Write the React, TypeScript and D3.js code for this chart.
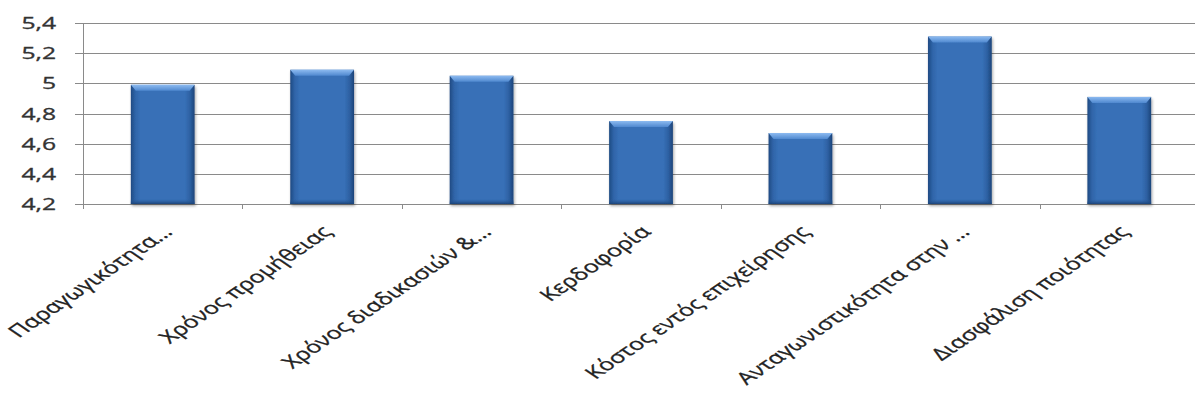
import React from "react";
import * as d3 from "d3";

const categories: string[] = [
  "Παραγωγικότητα...",
  "Χρόνος προμήθειας",
  "Χρόνος διαδικασιών &...",
  "Κερδοφορία",
  "Κόστος εντός επιχείρησης",
  "Ανταγωνιστικότητα στην ...",
  "Διασφάλιση ποιότητας",
];
const values: number[] = [4.99, 5.09, 5.05, 4.75, 4.67, 5.31, 4.91];
const yTicks: number[] = [4.2, 4.4, 4.6, 4.8, 5.0, 5.2, 5.4];
const yTickLabels: string[] = ["4,2", "4,4", "4,6", "4,8", "5", "5,2", "5,4"];

const W = 1195;
const H = 400;
const left = 83;
const right = 1199;
const top = 23;
const bottom = 204;
const K = 1.47; // horizontal stretch of text
const FONT = "'Open Sans', 'Noto Sans', sans-serif";

export default function App() {
  const x = d3
    .scaleBand<string>()
    .domain(categories)
    .range([left, right])
    .paddingInner(0.6)
    .paddingOuter(0.3);
  const y = d3.scaleLinear().domain([4.2, 5.4]).range([bottom, top]);
  const step = x.step();
  const bw = x.bandwidth();

  return (
    <svg
      width={W}
      height={H}
      style={{ position: "absolute", left: 0, top: 0, background: "#fff" }}
    >
      <defs>
        <linearGradient id="barH" x1="0" x2="1" y1="0" y2="0">
          <stop offset="0" stopColor="#1f4a82" />
          <stop offset="0.07" stopColor="#2f64a8" />
          <stop offset="0.15" stopColor="#3770b7" />
          <stop offset="0.85" stopColor="#3770b7" />
          <stop offset="0.93" stopColor="#2d60a2" />
          <stop offset="1" stopColor="#1c4479" />
        </linearGradient>
        <linearGradient id="bevel" x1="0" x2="0" y1="0" y2="1">
          <stop offset="0" stopColor="#8cbaf0" />
          <stop offset="1" stopColor="#4f88cf" />
        </linearGradient>
        <linearGradient id="bottomEdge" x1="0" x2="0" y1="0" y2="1">
          <stop offset="0" stopColor="#2c5e9e" stopOpacity="0" />
          <stop offset="1" stopColor="#1c4479" />
        </linearGradient>
        <filter id="shadow" x="-20%" y="-10%" width="140%" height="130%">
          <feGaussianBlur in="SourceAlpha" stdDeviation="1.5" />
          <feOffset dx="1" dy="1.5" result="b" />
          <feComponentTransfer>
            <feFuncA type="linear" slope="0.35" />
          </feComponentTransfer>
          <feMerge>
            <feMergeNode />
            <feMergeNode in="SourceGraphic" />
          </feMerge>
        </filter>
      </defs>

      {/* gridlines */}
      {yTicks.map((t) => (
        <line
          key={"g" + t}
          x1={left - 8}
          x2={W}
          y1={Math.round(y(t)) + 0.5}
          y2={Math.round(y(t)) + 0.5}
          stroke="#8a8a8a"
          strokeWidth={1}
        />
      ))}
      {/* y axis line */}
      <line
        x1={left + 0.5}
        x2={left + 0.5}
        y1={y(5.4)}
        y2={bottom + 5}
        stroke="#8a8a8a"
      />
      {/* category ticks */}
      {categories.map((c, i) => (
        <line
          key={"t" + i}
          x1={Math.round(left + step * (i + 1)) + 0.5}
          x2={Math.round(left + step * (i + 1)) + 0.5}
          y1={bottom}
          y2={bottom + 5}
          stroke="#8a8a8a"
        />
      ))}

      {/* bars */}
      {categories.map((c, i) => {
        const bx = x(c)!;
        const by = y(values[i]);
        const bh = bottom - by;
        const bev = 6;
        return (
          <g key={"b" + i} filter="url(#shadow)">
            <rect x={bx} y={by} width={bw} height={bh} fill="url(#barH)" />
            <polygon
              points={`${bx},${by} ${bx + bw},${by} ${bx + bw - 5},${by + bev} ${bx + 5},${by + bev}`}
              fill="url(#bevel)"
            />
            <rect
              x={bx}
              y={bottom - 5}
              width={bw}
              height={5}
              fill="url(#bottomEdge)"
            />
          </g>
        );
      })}

      {/* y tick labels */}
      {yTicks.map((t, i) => (
        <text
          key={"yl" + t}
          transform={`translate(56, ${y(t) + 6}) scale(1.45,1)`}
          textAnchor="end"
          fontFamily={FONT}
          fontSize={17}
          fill="#333"
          stroke="#333"
          strokeWidth={0.35}
        >
          {yTickLabels[i]}
        </text>
      ))}

      {/* x labels */}
      {categories.map((c, i) => {
        const cx = x(c)! + bw / 2;
        return (
          <text
            key={"xl" + i}
            transform={`translate(${cx + 11}, 233) scale(${K},1) rotate(-45)`}
            textAnchor="end"
            fontFamily={FONT}
            fontSize={17}
            fill="#222"
            stroke="#222"
            strokeWidth={0.3}
          >
            {c}
          </text>
        );
      })}
    </svg>
  );
}
